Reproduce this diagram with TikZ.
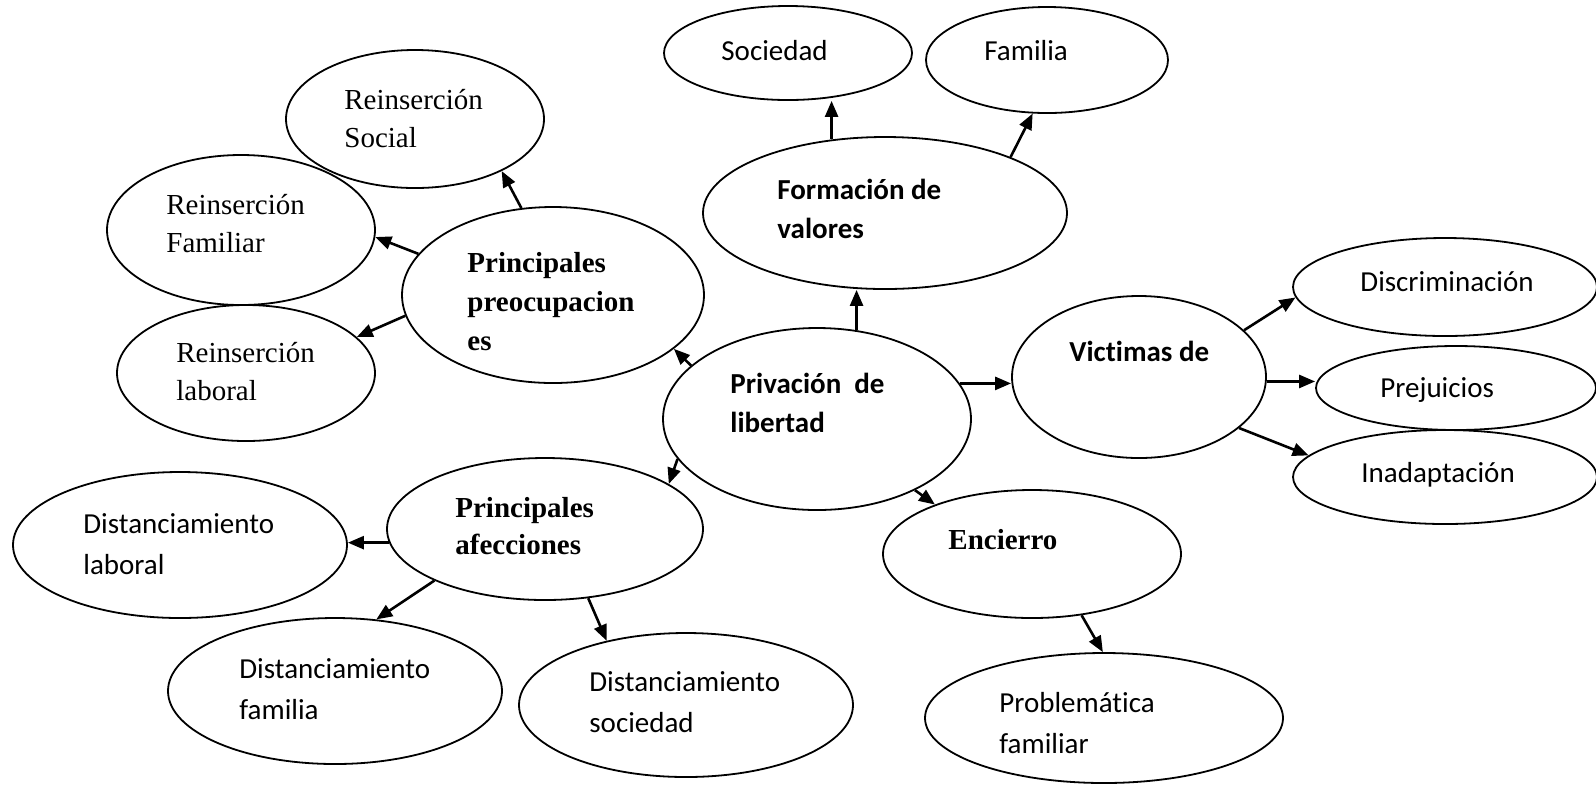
\documentclass[tikz,border=0pt]{standalone}
\usepackage{fontspec}
\setmainfont{Liberation Serif}
\newfontfamily\calib[Ligatures=NoCommon]{Carlito}
\usetikzlibrary{shapes.geometric,arrows.meta}
\newcommand{\twol}[2]{\begin{tabular}[t]{@{}l@{}}#1\\#2\end{tabular}}
\begin{document}
\begin{tikzpicture}[x=0.5pt,y=-0.5pt,
  ell/.style={draw, ellipse, line width=0.9pt, inner sep=0pt},
  arr/.style={line width=1.3pt, -{Triangle[length=8pt,width=6.5pt]}},
  lbl/.style={anchor=base west, inner sep=0pt},
  tms/.style={font=\fontsize{14.5}{19.25}\selectfont},
  tmsb/.style={font=\fontsize{14.5}{19.5}\selectfont\bfseries},
  cal/.style={font=\fontsize{14.5}{20.5}\selectfont\calib},
  calb/.style={font=\fontsize{14.5}{19.8}\selectfont\calib\bfseries},
]
\useasboundingbox (0,0) rectangle (1596,784);

% ellipses
\node[ell, minimum width=124pt, minimum height=47pt] (soc) at (788,53) {};
\node[ell, minimum width=121pt, minimum height=53pt] (fam) at (1047,60) {};
\node[ell, minimum width=129pt, minimum height=69pt] (rsoc) at (415,119) {};
\node[ell, minimum width=134pt, minimum height=75pt] (rfam) at (241,230) {};
\node[ell, minimum width=129pt, minimum height=68pt] (rlab) at (246,373) {};
\node[ell, minimum width=151pt, minimum height=88pt] (preoc) at (553,295) {};
\node[ell, minimum width=182pt, minimum height=76pt] (form) at (885,213) {};
\node[ell, minimum width=154pt, minimum height=91pt] (priv) at (817,419) {};
\node[ell, minimum width=127pt, minimum height=81pt] (vict) at (1139,377) {};
\node[ell, minimum width=152pt, minimum height=49pt] (disc) at (1445,287) {};
\node[ell, minimum width=140pt, minimum height=42pt] (prej) at (1456,388) {};
\node[ell, minimum width=152pt, minimum height=47pt] (inad) at (1445,477) {};
\node[ell, minimum width=149pt, minimum height=64pt] (enc) at (1032,554) {};
\node[ell, minimum width=179pt, minimum height=65pt] (prob) at (1104,718) {};
\node[ell, minimum width=158pt, minimum height=71pt] (afec) at (545,529) {};
\node[ell, minimum width=167pt, minimum height=73pt] (dlab) at (180,545) {};
\node[ell, minimum width=167pt, minimum height=73pt] (dfam) at (335,691) {};
\node[ell, minimum width=167pt, minimum height=72pt] (dsoc) at (686,705) {};

% labels
\node[lbl,cal] (t-soc) at (721,60) {Sociedad};
\node[lbl,cal] (t-fam) at (984,60) {Familia};
\node[lbl,tms] (t-rsoc) at (344,109) {\twol{Reinserción}{Social}};
\node[lbl,tms] (t-rfam) at (166,214) {\twol{Reinserción}{Familiar}};
\node[lbl,tms] (t-rlab) at (176,362) {\twol{Reinserción}{laboral}};
\node[lbl,tmsb] (t-preoc) at (467,272) {\begin{tabular}[t]{@{}l@{}}Principales\\preocupacion\\es\end{tabular}};
\node[lbl,calb] (t-form) at (777,199) {\twol{Formación de}{valores}};
\node[lbl,calb] (t-priv) at (730,393) {\twol{Privación\ \ de}{libertad}};
\node[lbl,calb] (t-vict) at (1069,361) {Victimas de};
\node[lbl,cal] (t-disc) at (1360,291) {Discriminación};
\node[lbl,cal] (t-prej) at (1380,397) {Prejuicios};
\node[lbl,cal] (t-inad) at (1361,482) {Inadaptación};
\node[lbl,tmsb] (t-enc) at (948,549) {Encierro};
\node[lbl,cal] (t-prob) at (999,712) {\twol{Problemática}{familiar}};
\node[lbl,tmsb] (t-afec) at (455,517) {\begin{tabular}[t]{@{}l@{}}Principales\\[-1pt]afecciones\end{tabular}};
\node[lbl,cal] (t-dlab) at (83,533) {\twol{Distanciamiento}{laboral}};
\node[lbl,cal] (t-dfam) at (239,678) {\twol{Distanciamiento}{familia}};
\node[lbl,cal] (t-dsoc) at (589,691) {\twol{Distanciamiento}{sociedad}};

% connectors
\draw[arr] (form.126) -- (form.126 |- soc.south);
\draw[arr] (form.24.7) -- (fam.255);
\draw[arr] (priv.66.8) -- (priv.66.8 |- form.south);
\draw[arr] (priv.157.7) -- (preoc.-24.2);
\draw[arr] (preoc.110.8) -- (rsoc.-31);
\draw[arr] (preoc.163.1) -- (rfam.-3.3);
\draw[arr] (preoc.188.6) -- (rlab.18.8);
\draw[arr] (priv.14.4) -- (priv.14.4 -| vict.west);
\draw[arr] (vict.24.1) -- (disc.184.4);
\draw[arr] (vict.-2.7) -- (vict.-2.7 -| prej.west);
\draw[arr] (vict.-27.6) -- (inad.171.8);
\draw[arr] (priv.-36.2) -- (enc.153.9);
\draw[arr] (enc.-51.8) -- (prob.91);
\draw[arr] (priv.196.1) -- (afec.20);
\draw[arr] (afec.185.9) -- (afec.185.9 -| dlab.east);
\draw[arr] (afec.205.5) -- (dfam.60.75);
\draw[arr] (afec.-58.2) -- (dsoc.141.4);
\end{tikzpicture}
\end{document}
